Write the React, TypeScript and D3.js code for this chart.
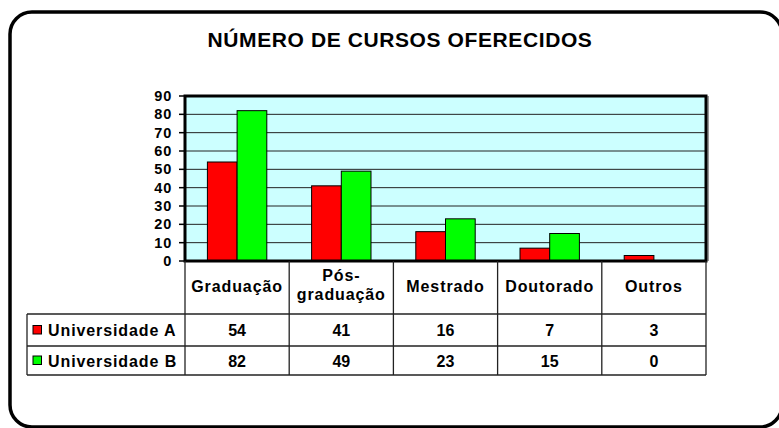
import React from 'react';
import * as d3 from 'd3';

const categories = ['Graduação', 'Pós-graduação', 'Mestrado', 'Doutorado', 'Outros'];
const headerLines = [['Graduação'], ['Pós-', 'graduação'], ['Mestrado'], ['Doutorado'], ['Outros']];
const seriesNames = ['Universidade A', 'Universidade B'];
const seriesColors = ['#ff0000', '#00ff00'];
const universidadeA = [54, 41, 16, 7, 3];
const universidadeB = [82, 49, 23, 15, 0];
const yTicks = [0, 10, 20, 30, 40, 50, 60, 70, 80, 90];

const font = '"Liberation Sans", Arial, sans-serif';

const App = () => {
  const width = 779;
  const height = 428;
  const plot = { left: 185, right: 706, top: 96, bottom: 261 };
  const table = { left: 27, headerBottom: 314, rowA: 346, rowB: 375 };

  const series = [universidadeA, universidadeB];

  const x = d3.scaleBand().domain(categories).range([plot.left, plot.right]).padding(0);
  const bw = x.bandwidth();
  const x1 = d3.scaleBand().domain(seriesNames).range([bw * 0.215, bw * 0.785]).padding(0);
  const y = d3.scaleLinear().domain([0, 90]).range([plot.bottom, plot.top]);

  const rowTops = [table.headerBottom, table.rowA];
  const rowBottoms = [table.rowA, table.rowB];

  return (
    <svg width={width} height={height} style={{ position: 'absolute', left: 0, top: 0 }}>
      <rect x={0} y={0} width={width} height={height} fill="#fff" />
      {/* outer frame, its right and bottom edges sit just past the picture */}
      <rect x={10} y={12} width={772} height={415} rx={22} fill="none" stroke="#000" strokeWidth={3.5} />

      <text x={400} y={47} textAnchor="middle" fontFamily={font} fontWeight="bold" fontSize={21} letterSpacing={0.6}>
        NÚMERO DE CURSOS OFERECIDOS
      </text>

      {/* plot area */}
      <rect x={plot.left} y={plot.top} width={plot.right - plot.left} height={plot.bottom - plot.top} fill="#ccffff" />
      {yTicks.filter(t => t > 0 && t < 90).map(t => (
        <line key={t} x1={plot.left} x2={plot.right} y1={y(t)} y2={y(t)} stroke="#222" strokeWidth={1} />
      ))}

      {categories.map((c, i) => (
        <g key={c} transform={`translate(${x(c)},0)`}>
          {series.map((vals, s) => (
            vals[i] > 0 ? (
              <rect
                key={s}
                x={x1(seriesNames[s])}
                y={y(vals[i])}
                width={x1.bandwidth()}
                height={y(0) - y(vals[i])}
                fill={seriesColors[s]}
                stroke="#000"
                strokeWidth={1}
              />
            ) : null
          ))}
        </g>
      ))}

      <rect x={plot.left} y={plot.top} width={plot.right - plot.left} height={plot.bottom - plot.top} fill="none" stroke="#000" strokeWidth={3} />
      <line x1={plot.right + 2} x2={plot.right + 2} y1={plot.top} y2={plot.bottom} stroke="#333" strokeWidth={1} />

      {/* y axis */}
      {yTicks.map(t => (
        <g key={t}>
          <line x1={plot.left - 6} x2={plot.left} y1={y(t)} y2={y(t)} stroke="#000" strokeWidth={1.5} />
          <text x={172} y={y(t) + 5} textAnchor="end" fontFamily={font} fontWeight="bold" fontSize={14.5} letterSpacing={0.8}>
            {t}
          </text>
        </g>
      ))}

      {/* data table */}
      <g stroke="#222" strokeWidth={1.3} fill="none">
        {categories.map(c => (
          <line key={c} x1={x(c)} x2={x(c)} y1={plot.bottom} y2={table.rowB} />
        ))}
        <line x1={plot.right} x2={plot.right} y1={plot.bottom} y2={table.rowB} />
        <line x1={table.left} x2={table.left} y1={table.headerBottom} y2={table.rowB} />
        <line x1={table.left} x2={plot.right} y1={table.headerBottom} y2={table.headerBottom} />
        <line x1={table.left} x2={plot.right} y1={table.rowA} y2={table.rowA} />
        <line x1={table.left} x2={plot.right} y1={table.rowB} y2={table.rowB} />
      </g>

      {categories.map((c, i) => {
        const cx = (x(c) as number) + bw / 2;
        const lines = headerLines[i];
        const base = lines.length === 1 ? 292 : 281;
        return (
          <text key={c} textAnchor="middle" fontFamily={font} fontWeight="bold" fontSize={16} letterSpacing={0.9}>
            {lines.map((l, k) => (
              <tspan key={k} x={cx} y={base + k * 19}>{l}</tspan>
            ))}
          </text>
        );
      })}

      {series.map((vals, s) => {
        const top = rowTops[s];
        const bottom = rowBottoms[s];
        const base = (top + bottom) / 2 + 6;
        return (
          <g key={s}>
            <rect x={33} y={(top + bottom) / 2 - 4.5} width={8.5} height={8.5} fill={seriesColors[s]} stroke="#000" strokeWidth={1} />
            <text x={48} y={base} fontFamily={font} fontWeight="bold" fontSize={16} letterSpacing={0.9}>
              {seriesNames[s]}
            </text>
            {categories.map((c, i) => (
              <text key={c} x={(x(c) as number) + bw / 2} y={base} textAnchor="middle" fontFamily={font} fontWeight="bold" fontSize={16}>
                {vals[i]}
              </text>
            ))}
          </g>
        );
      })}
    </svg>
  );
};

export default App;
